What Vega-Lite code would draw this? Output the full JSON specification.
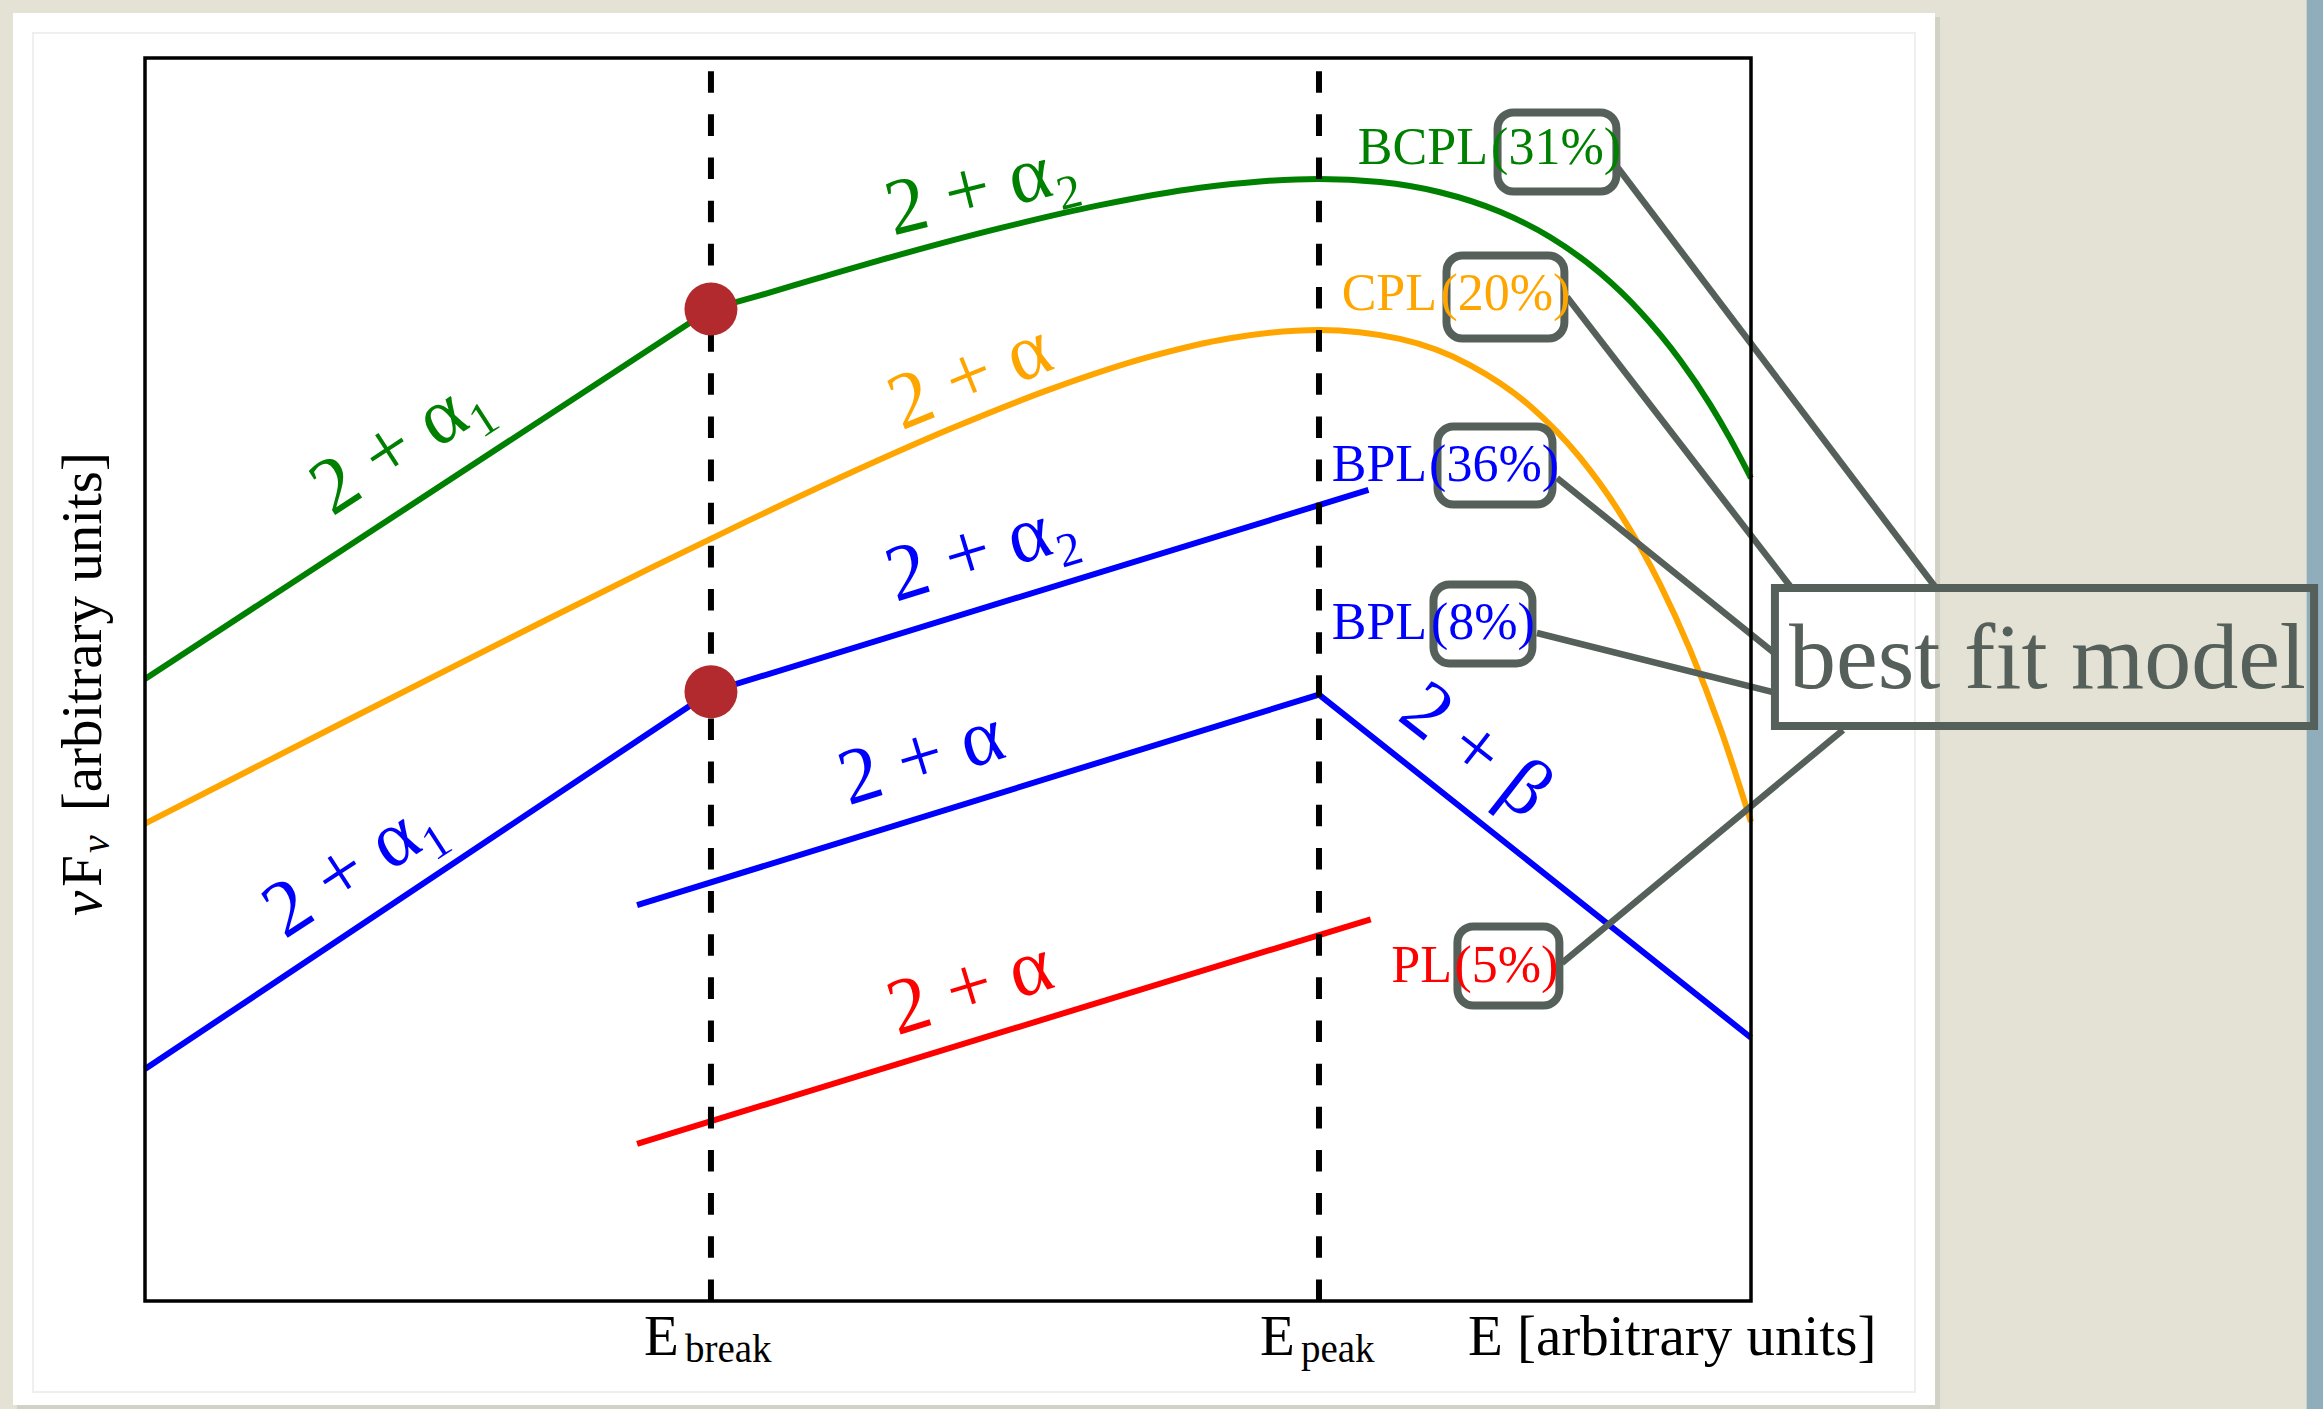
{
  "$schema": "https://vega.github.io/schema/vega-lite/v6.json",
  "width": 1606,
  "height": 1243,
  "autosize": {"type": "none"},
  "padding": {"left": 145, "top": 58, "right": 572, "bottom": 108},
  "background": "#e3e2d5",
  "config": {"font": "Liberation Serif", "view": {"stroke": null}},
  "datasets": {
    "straight": [
      {"model": "BCPL", "e": 0, "flux": 50.04},
      {"model": "BCPL", "e": 35.24, "flux": 79.8},
      {"model": "BPL36", "e": 0, "flux": 18.66},
      {"model": "BPL36", "e": 35.24, "flux": 49.02},
      {"model": "BPL36", "e": 76.18, "flux": 65.25},
      {"model": "BPL8", "e": 30.64, "flux": 31.84},
      {"model": "BPL8", "e": 73.1, "flux": 48.79},
      {"model": "BPL8", "e": 100, "flux": 21.18},
      {"model": "PL", "e": 30.64, "flux": 12.65},
      {"model": "PL", "e": 76.32, "flux": 30.71}
    ],
    "smooth": [
      {"model": "BCPL", "e": 35.24, "flux": 79.8},
      {"model": "BCPL", "e": 38.29, "flux": 80.9},
      {"model": "BCPL", "e": 42.03, "flux": 82.33},
      {"model": "BCPL", "e": 47.01, "flux": 84.18},
      {"model": "BCPL", "e": 53.24, "flux": 86.31},
      {"model": "BCPL", "e": 59.46, "flux": 88.16},
      {"model": "BCPL", "e": 65.69, "flux": 89.56},
      {"model": "BCPL", "e": 69.43, "flux": 90.07},
      {"model": "BCPL", "e": 73.1, "flux": 90.27},
      {"model": "BCPL", "e": 76.9, "flux": 90.02},
      {"model": "BCPL", "e": 80.63, "flux": 89.2},
      {"model": "BCPL", "e": 84.37, "flux": 87.63},
      {"model": "BCPL", "e": 87.48, "flux": 85.6},
      {"model": "BCPL", "e": 90.6, "flux": 82.7},
      {"model": "BCPL", "e": 93.09, "flux": 79.61},
      {"model": "BCPL", "e": 95.58, "flux": 75.71},
      {"model": "BCPL", "e": 97.45, "flux": 72.14},
      {"model": "BCPL", "e": 98.69, "flux": 69.4},
      {"model": "BCPL", "e": 100, "flux": 66.21},
      {"model": "CPL", "e": 0, "flux": 38.4},
      {"model": "CPL", "e": 6.54, "flux": 42.72},
      {"model": "CPL", "e": 12.76, "flux": 46.82},
      {"model": "CPL", "e": 18.99, "flux": 50.9},
      {"model": "CPL", "e": 25.22, "flux": 54.95},
      {"model": "CPL", "e": 31.44, "flux": 58.94},
      {"model": "CPL", "e": 37.67, "flux": 62.84},
      {"model": "CPL", "e": 43.9, "flux": 66.61},
      {"model": "CPL", "e": 50.12, "flux": 70.15},
      {"model": "CPL", "e": 56.35, "flux": 73.34},
      {"model": "CPL", "e": 62.58, "flux": 75.97},
      {"model": "CPL", "e": 67.56, "flux": 77.45},
      {"model": "CPL", "e": 73.1, "flux": 78.12},
      {"model": "CPL", "e": 78.14, "flux": 77.4},
      {"model": "CPL", "e": 82.5, "flux": 75.3},
      {"model": "CPL", "e": 86.24, "flux": 72.01},
      {"model": "CPL", "e": 89.35, "flux": 67.86},
      {"model": "CPL", "e": 91.84, "flux": 63.39},
      {"model": "CPL", "e": 94.33, "flux": 57.68},
      {"model": "CPL", "e": 96.2, "flux": 52.41},
      {"model": "CPL", "e": 98.07, "flux": 46.16},
      {"model": "CPL", "e": 100, "flux": 38.54}
    ],
    "breaks": [
      {"model": "BCPL", "e": 35.24, "flux": 79.8},
      {"model": "BPL36", "e": 35.24, "flux": 49.02}
    ],
    "slopes": [
      {"model": "BCPL", "text": "2 + α₁", "e": 15.93, "flux": 68.97},
      {"model": "BCPL", "text": "2 + α₂", "e": 52.12, "flux": 89.5},
      {"model": "CPL", "text": "2 + α", "e": 51.38, "flux": 74.34},
      {"model": "BPL36", "text": "2 + α₁", "e": 12.98, "flux": 34.96},
      {"model": "BPL36", "text": "2 + α₂", "e": 52.12, "flux": 60.38},
      {"model": "BPL8", "text": "2 + α", "e": 48.34, "flux": 43.68},
      {"model": "BPL8", "text": "2 + β", "e": 82.87, "flux": 44.27},
      {"model": "PL", "text": "2 + α", "e": 51.38, "flux": 25.18}
    ],
    "tags": [
      {"model": "BCPL", "name": "BCPL", "share": "(31%)", "e_name": 83.62, "e_share": 87.86, "flux": 91.47, "box_e0": 84.22, "box_e1": 91.62, "box_f0": 89.26, "box_f1": 95.62, "link_e0": 91.72, "link_f0": 91.15, "link_e1": 111.52, "link_f1": 57.36},
      {"model": "CPL", "name": "CPL", "share": "(20%)", "e_name": 80.45, "e_share": 84.71, "flux": 79.73, "box_e0": 81.04, "box_e1": 88.38, "box_f0": 77.43, "box_f1": 84.11, "link_e0": 88.54, "link_f0": 80.77, "link_e1": 102.43, "link_f1": 57.52},
      {"model": "BPL36", "name": "BPL", "share": "(36%)", "e_name": 79.83, "e_share": 84.0, "flux": 65.97, "box_e0": 80.48, "box_e1": 87.64, "box_f0": 64.08, "box_f1": 70.35, "link_e0": 87.92, "link_f0": 66.21, "link_e1": 101.37, "link_f1": 52.21},
      {"model": "BPL8", "name": "BPL", "share": "(8%)", "e_name": 79.83, "e_share": 83.31, "flux": 53.26, "box_e0": 80.23, "box_e1": 86.39, "box_f0": 51.29, "box_f1": 57.64, "link_e0": 86.67, "link_f0": 53.74, "link_e1": 101.37, "link_f1": 48.99},
      {"model": "PL", "name": "PL", "share": "(5%)", "e_name": 81.38, "e_share": 84.77, "flux": 25.66, "box_e0": 81.72, "box_e1": 88.07, "box_f0": 23.77, "box_f1": 30.13, "link_e0": 88.23, "link_f0": 27.19, "link_e1": 105.73, "link_f1": 45.94}
    ]
  },
  "layer": [
    {
      "data": {"values": [{"e0": 134.6, "e1": 140, "f0": -12, "f1": 112}]},
      "mark": {"type": "rect", "color": "#8fadbb"},
      "encoding": {
        "x": {"field": "e0", "type": "quantitative", "scale": {"domain": [0, 100], "nice": false, "zero": false}},
        "x2": {"field": "e1"},
        "y": {"field": "f0", "type": "quantitative", "scale": {"domain": [0, 100], "nice": false, "zero": false}},
        "y2": {"field": "f1"}
      }
    },
    {
      "data": {"values": [{"e0": -7.97, "e1": 111.77, "f0": -8.69, "f1": 103.3}]},
      "mark": {"type": "rect", "color": "#d2d1c5"},
      "encoding": {
        "x": {"field": "e0", "type": "quantitative", "scale": {"domain": [0, 100], "nice": false, "zero": false}},
        "x2": {"field": "e1"},
        "y": {"field": "f0", "type": "quantitative", "scale": {"domain": [0, 100], "nice": false, "zero": false}},
        "y2": {"field": "f1"}
      }
    },
    {
      "data": {"values": [{"e0": -8.22, "e1": 111.46, "f0": -8.37, "f1": 103.62}]},
      "mark": {"type": "rect", "color": "#ffffff"},
      "encoding": {
        "x": {"field": "e0", "type": "quantitative", "scale": {"domain": [0, 100], "nice": false, "zero": false}},
        "x2": {"field": "e1"},
        "y": {"field": "f0", "type": "quantitative", "scale": {"domain": [0, 100], "nice": false, "zero": false}},
        "y2": {"field": "f1"}
      }
    },
    {
      "data": {"values": [{"e0": -6.97, "e1": 110.21, "f0": -7.32, "f1": 102.01}]},
      "mark": {"type": "rect", "filled": false, "color": "#efefef", "strokeWidth": 2},
      "encoding": {
        "x": {"field": "e0", "type": "quantitative", "scale": {"domain": [0, 100], "nice": false, "zero": false}},
        "x2": {"field": "e1"},
        "y": {"field": "f0", "type": "quantitative", "scale": {"domain": [0, 100], "nice": false, "zero": false}},
        "y2": {"field": "f1"}
      }
    },
    {
      "data": {"name": "straight"},
      "mark": {"type": "line", "strokeWidth": 6},
      "encoding": {
        "x": {"field": "e", "type": "quantitative", "scale": {"domain": [0, 100], "nice": false, "zero": false}},
        "y": {"field": "flux", "type": "quantitative", "scale": {"domain": [0, 100], "nice": false, "zero": false}},
        "color": {"field": "model", "type": "nominal", "legend": null, "scale": {"domain": ["BCPL", "CPL", "BPL36", "BPL8", "PL"], "range": ["#008000", "#ffa500", "#0000ff", "#0000ff", "#ff0000"]}}
      }
    },
    {
      "data": {"name": "smooth"},
      "mark": {"type": "line", "strokeWidth": 6, "interpolate": "monotone"},
      "encoding": {
        "x": {"field": "e", "type": "quantitative", "scale": {"domain": [0, 100], "nice": false, "zero": false}},
        "y": {"field": "flux", "type": "quantitative", "scale": {"domain": [0, 100], "nice": false, "zero": false}},
        "color": {"field": "model", "type": "nominal", "legend": null, "scale": {"domain": ["BCPL", "CPL", "BPL36", "BPL8", "PL"], "range": ["#008000", "#ffa500", "#0000ff", "#0000ff", "#ff0000"]}}
      }
    },
    {
      "data": {"values": [{"name": "E_break", "e": 35.24}, {"name": "E_peak", "e": 73.1}]},
      "mark": {"type": "rule", "color": "#000000", "strokeWidth": 6, "strokeDash": [21.6, 21.55]},
      "encoding": {
        "x": {"field": "e", "type": "quantitative", "scale": {"domain": [0, 100], "nice": false, "zero": false}},
        "y": {"datum": 0, "type": "quantitative", "scale": {"domain": [0, 100], "nice": false, "zero": false}},
        "y2": {"datum": 100}
      }
    },
    {
      "data": {"name": "breaks"},
      "mark": {"type": "point", "shape": "circle", "filled": true, "opacity": 1, "size": 2809, "color": "#b32a2e", "strokeWidth": 0},
      "encoding": {
        "x": {"field": "e", "type": "quantitative", "scale": {"domain": [0, 100], "nice": false, "zero": false}},
        "y": {"field": "flux", "type": "quantitative", "scale": {"domain": [0, 100], "nice": false, "zero": false}}
      }
    },
    {
      "data": {"name": "slopes"},
      "transform": [{"filter": "datum.text === '2 + α₁'"}],
      "mark": {"type": "text", "fontSize": 80, "angle": -33, "align": "center", "baseline": "middle"},
      "encoding": {
        "x": {"field": "e", "type": "quantitative", "scale": {"domain": [0, 100], "nice": false, "zero": false}},
        "y": {"field": "flux", "type": "quantitative", "scale": {"domain": [0, 100], "nice": false, "zero": false}},
        "text": {"field": "text"},
        "color": {"field": "model", "type": "nominal", "legend": null, "scale": {"domain": ["BCPL", "CPL", "BPL36", "BPL8", "PL"], "range": ["#008000", "#ffa500", "#0000ff", "#0000ff", "#ff0000"]}}
      }
    },
    {
      "data": {"name": "slopes"},
      "transform": [{"filter": "datum.model === 'BCPL' && datum.text === '2 + α₂'"}],
      "mark": {"type": "text", "fontSize": 80, "angle": -14, "align": "center", "baseline": "middle"},
      "encoding": {
        "x": {"field": "e", "type": "quantitative", "scale": {"domain": [0, 100], "nice": false, "zero": false}},
        "y": {"field": "flux", "type": "quantitative", "scale": {"domain": [0, 100], "nice": false, "zero": false}},
        "text": {"field": "text"},
        "color": {"field": "model", "type": "nominal", "legend": null, "scale": {"domain": ["BCPL", "CPL", "BPL36", "BPL8", "PL"], "range": ["#008000", "#ffa500", "#0000ff", "#0000ff", "#ff0000"]}}
      }
    },
    {
      "data": {"name": "slopes"},
      "transform": [{"filter": "datum.model === 'CPL'"}],
      "mark": {"type": "text", "fontSize": 80, "angle": -22, "align": "center", "baseline": "middle"},
      "encoding": {
        "x": {"field": "e", "type": "quantitative", "scale": {"domain": [0, 100], "nice": false, "zero": false}},
        "y": {"field": "flux", "type": "quantitative", "scale": {"domain": [0, 100], "nice": false, "zero": false}},
        "text": {"field": "text"},
        "color": {"field": "model", "type": "nominal", "legend": null, "scale": {"domain": ["BCPL", "CPL", "BPL36", "BPL8", "PL"], "range": ["#008000", "#ffa500", "#0000ff", "#0000ff", "#ff0000"]}}
      }
    },
    {
      "data": {"name": "slopes"},
      "transform": [{"filter": "(datum.model === 'BPL36' && datum.text === '2 + α₂') || (datum.model === 'BPL8' && datum.text === '2 + α') || datum.model === 'PL'"}],
      "mark": {"type": "text", "fontSize": 80, "angle": -17, "align": "center", "baseline": "middle"},
      "encoding": {
        "x": {"field": "e", "type": "quantitative", "scale": {"domain": [0, 100], "nice": false, "zero": false}},
        "y": {"field": "flux", "type": "quantitative", "scale": {"domain": [0, 100], "nice": false, "zero": false}},
        "text": {"field": "text"},
        "color": {"field": "model", "type": "nominal", "legend": null, "scale": {"domain": ["BCPL", "CPL", "BPL36", "BPL8", "PL"], "range": ["#008000", "#ffa500", "#0000ff", "#0000ff", "#ff0000"]}}
      }
    },
    {
      "data": {"name": "slopes"},
      "transform": [{"filter": "datum.text === '2 + β'"}],
      "mark": {"type": "text", "fontSize": 80, "angle": 38, "align": "center", "baseline": "middle"},
      "encoding": {
        "x": {"field": "e", "type": "quantitative", "scale": {"domain": [0, 100], "nice": false, "zero": false}},
        "y": {"field": "flux", "type": "quantitative", "scale": {"domain": [0, 100], "nice": false, "zero": false}},
        "text": {"field": "text"},
        "color": {"field": "model", "type": "nominal", "legend": null, "scale": {"domain": ["BCPL", "CPL", "BPL36", "BPL8", "PL"], "range": ["#008000", "#ffa500", "#0000ff", "#0000ff", "#ff0000"]}}
      }
    },
    {
      "data": {"name": "tags"},
      "mark": {"type": "rule", "color": "#56605a", "strokeWidth": 6.5},
      "encoding": {
        "x": {"field": "link_e0", "type": "quantitative", "scale": {"domain": [0, 100], "nice": false, "zero": false}},
        "y": {"field": "link_f0", "type": "quantitative", "scale": {"domain": [0, 100], "nice": false, "zero": false}},
        "x2": {"field": "link_e1"},
        "y2": {"field": "link_f1"}
      }
    },
    {
      "data": {"name": "tags"},
      "mark": {"type": "rect", "filled": false, "color": "#56605a", "strokeWidth": 8, "cornerRadius": 16},
      "encoding": {
        "x": {"field": "box_e0", "type": "quantitative", "scale": {"domain": [0, 100], "nice": false, "zero": false}},
        "x2": {"field": "box_e1"},
        "y": {"field": "box_f0", "type": "quantitative", "scale": {"domain": [0, 100], "nice": false, "zero": false}},
        "y2": {"field": "box_f1"}
      }
    },
    {
      "data": {"name": "tags"},
      "mark": {"type": "text", "fontSize": 52, "align": "right", "baseline": "alphabetic"},
      "encoding": {
        "x": {"field": "e_name", "type": "quantitative", "scale": {"domain": [0, 100], "nice": false, "zero": false}},
        "y": {"field": "flux", "type": "quantitative", "scale": {"domain": [0, 100], "nice": false, "zero": false}},
        "text": {"field": "name"},
        "color": {"field": "model", "type": "nominal", "legend": null, "scale": {"domain": ["BCPL", "CPL", "BPL36", "BPL8", "PL"], "range": ["#008000", "#ffa500", "#0000ff", "#0000ff", "#ff0000"]}}
      }
    },
    {
      "data": {"name": "tags"},
      "mark": {"type": "text", "fontSize": 52, "align": "center", "baseline": "alphabetic"},
      "encoding": {
        "x": {"field": "e_share", "type": "quantitative", "scale": {"domain": [0, 100], "nice": false, "zero": false}},
        "y": {"field": "flux", "type": "quantitative", "scale": {"domain": [0, 100], "nice": false, "zero": false}},
        "text": {"field": "share"},
        "color": {"field": "model", "type": "nominal", "legend": null, "scale": {"domain": ["BCPL", "CPL", "BPL36", "BPL8", "PL"], "range": ["#008000", "#ffa500", "#0000ff", "#0000ff", "#ff0000"]}}
      }
    },
    {
      "data": {"values": [{"e0": 101.49, "e1": 135.06, "f0": 46.26, "f1": 57.36}]},
      "mark": {"type": "rect", "filled": false, "color": "#56605a", "strokeWidth": 8},
      "encoding": {
        "x": {"field": "e0", "type": "quantitative", "scale": {"domain": [0, 100], "nice": false, "zero": false}},
        "x2": {"field": "e1"},
        "y": {"field": "f0", "type": "quantitative", "scale": {"domain": [0, 100], "nice": false, "zero": false}},
        "y2": {"field": "f1"}
      }
    },
    {
      "data": {"values": [{"text": "best fit model", "e": 102.37, "flux": 49.32}]},
      "mark": {"type": "text", "fontSize": 94, "align": "left", "baseline": "alphabetic", "color": "#56605a"},
      "encoding": {
        "x": {"field": "e", "type": "quantitative", "scale": {"domain": [0, 100], "nice": false, "zero": false}},
        "y": {"field": "flux", "type": "quantitative", "scale": {"domain": [0, 100], "nice": false, "zero": false}},
        "text": {"field": "text"}
      }
    },
    {
      "data": {"values": [{}]},
      "mark": {"type": "rect", "filled": false, "color": "#000000", "strokeWidth": 3.5},
      "encoding": {
        "x": {"datum": 0, "type": "quantitative", "scale": {"domain": [0, 100], "nice": false, "zero": false}},
        "x2": {"datum": 100},
        "y": {"datum": 0, "type": "quantitative", "scale": {"domain": [0, 100], "nice": false, "zero": false}},
        "y2": {"datum": 100}
      }
    },
    {
      "data": {"values": [
        {"text": "E", "e": 31.07, "flux": -4.34},
        {"text": "E", "e": 69.43, "flux": -4.34},
        {"text": "E [arbitrary units]", "e": 82.38, "flux": -4.34}
      ]},
      "mark": {"type": "text", "fontSize": 57, "align": "left", "baseline": "alphabetic", "color": "#000000"},
      "encoding": {
        "x": {"field": "e", "type": "quantitative", "scale": {"domain": [0, 100], "nice": false, "zero": false}},
        "y": {"field": "flux", "type": "quantitative", "scale": {"domain": [0, 100], "nice": false, "zero": false}},
        "text": {"field": "text"}
      }
    },
    {
      "data": {"values": [
        {"text": "break", "e": 33.62, "flux": -4.91},
        {"text": "peak", "e": 71.98, "flux": -4.91}
      ]},
      "mark": {"type": "text", "fontSize": 39, "align": "left", "baseline": "alphabetic", "color": "#000000"},
      "encoding": {
        "x": {"field": "e", "type": "quantitative", "scale": {"domain": [0, 100], "nice": false, "zero": false}},
        "y": {"field": "flux", "type": "quantitative", "scale": {"domain": [0, 100], "nice": false, "zero": false}},
        "text": {"field": "text"}
      }
    },
    {
      "data": {"values": [{"text": "ν", "e": -2.74, "flux": 30.97}]},
      "mark": {"type": "text", "fontSize": 57, "fontStyle": "italic", "angle": 270, "align": "left", "baseline": "alphabetic", "color": "#000000"},
      "encoding": {
        "x": {"field": "e", "type": "quantitative", "scale": {"domain": [0, 100], "nice": false, "zero": false}},
        "y": {"field": "flux", "type": "quantitative", "scale": {"domain": [0, 100], "nice": false, "zero": false}},
        "text": {"field": "text"}
      }
    },
    {
      "data": {"values": [
        {"text": "F", "e": -2.74, "flux": 33.3},
        {"text": "[arbitrary units]", "e": -2.74, "flux": 39.4}
      ]},
      "mark": {"type": "text", "fontSize": 57, "angle": 270, "align": "left", "baseline": "alphabetic", "color": "#000000"},
      "encoding": {
        "x": {"field": "e", "type": "quantitative", "scale": {"domain": [0, 100], "nice": false, "zero": false}},
        "y": {"field": "flux", "type": "quantitative", "scale": {"domain": [0, 100], "nice": false, "zero": false}},
        "text": {"field": "text"}
      }
    },
    {
      "data": {"values": [{"text": "ν", "e": -2.26, "flux": 36.04}]},
      "mark": {"type": "text", "fontSize": 40, "fontStyle": "italic", "angle": 270, "align": "left", "baseline": "alphabetic", "color": "#000000"},
      "encoding": {
        "x": {"field": "e", "type": "quantitative", "scale": {"domain": [0, 100], "nice": false, "zero": false}},
        "y": {"field": "flux", "type": "quantitative", "scale": {"domain": [0, 100], "nice": false, "zero": false}},
        "text": {"field": "text"}
      }
    }
  ]
}
